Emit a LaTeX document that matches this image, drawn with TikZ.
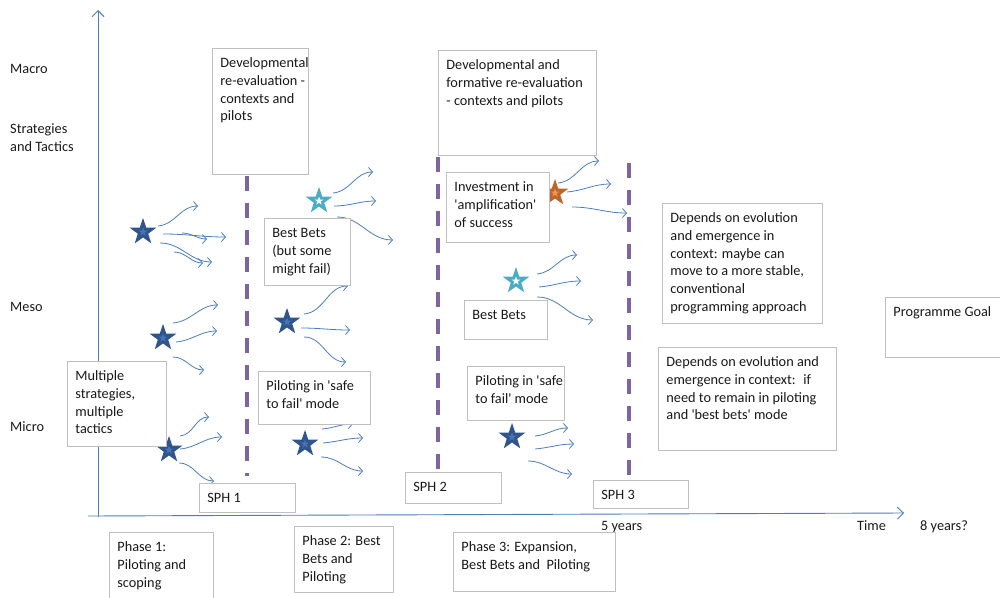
\documentclass[tikz,border=0pt]{standalone}
\usepackage{fontspec}
\setmainfont{Carlito}
\usetikzlibrary{shapes.geometric,arrows.meta}

\definecolor{boxgray}{RGB}{191,191,191}
\definecolor{axisblue}{RGB}{74,126,187}
\definecolor{wavblue}{RGB}{74,126,187}
\definecolor{dashpurple}{RGB}{128,100,162}
\definecolor{stardark}{RGB}{47,85,140}
\definecolor{starcore}{RGB}{72,116,182}
\definecolor{starlight}{RGB}{75,172,198}
\definecolor{starorange}{RGB}{190,100,40}
\definecolor{orangecore}{RGB}{240,150,80}
\definecolor{inktext}{RGB}{25,25,25}

% text block of fixed size, top aligned, lines set as given: width, height, lines
\newcommand\bt[3]{\parbox[t][#2pt][t]{#1pt}{\begin{tabular}[t]{@{}l@{}}#3\end{tabular}}}
\newcommand\sq{\textquotesingle}

\tikzset{
  x=1pt, y=-1pt,
  txtfont/.style={font=\fontsize{14.3}{17.7}\selectfont},
  tbox/.style={draw=boxgray, line width=0.8pt, fill=white, anchor=north west,
               inner xsep=8pt, inner ysep=7pt, text=inktext, txtfont},
  lbl/.style={inner sep=0pt, text=inktext, anchor=base west, txtfont},
  axis/.style={draw=axisblue, line width=0.9pt, -{Straight Barb[length=6pt,width=12pt]}},
  wav/.style={draw=wavblue, line width=0.8pt, -{Straight Barb[length=4pt,width=9pt]}},
  phaseline/.style={draw=dashpurple, line width=3.6pt, dash pattern=on 15pt off 12pt},
  bigstar/.style={star, star points=5, star point ratio=2.55, minimum size=28pt,
                  inner sep=0pt, draw=none},
  corestar/.style={star, star points=5, star point ratio=2.55, minimum size=9pt,
                   inner sep=0pt, draw=none},
  darkstar/.style={bigstar, fill=stardark},
  lightstar/.style={bigstar, fill=starlight},
  orangestar/.style={bigstar, fill=starorange},
}

\begin{document}
\begin{tikzpicture}
\useasboundingbox (0,0) rectangle (1000,597);

% axes
\coordinate (yb) at (98,517);
\coordinate (yt) at (98,10);
\coordinate (xl) at (88,516);
\coordinate (xr) at (904,513);
\draw[axis] (yb) -- (yt);
\draw[axis] (xl) -- (xr);

% level labels
\node[lbl] (macro) at (10,73) {Macro};
\node[lbl, anchor=north west] (strat) at (10,121) {\bt{100}{40}{Strategies\\and Tactics}};
\node[lbl] (meso) at (10,311) {Meso};
\node[lbl] (micro) at (10,431) {Micro};

% time labels
\node[lbl] (five) at (601,530) {5 years};
\node[lbl] (time) at (857,530) {Time};
\node[lbl] (eight) at (920,530) {8 years?};

% review points
\coordinate (d1t) at (247,176); \coordinate (d1b) at (247,476);
\coordinate (d2t) at (438,157); \coordinate (d2b) at (438,471);
\coordinate (d3t) at (629,163); \coordinate (d3b) at (629,479);
\draw[phaseline] (d1t) -- (d1b);
\draw[phaseline] (d2t) -- (d2b);
\draw[phaseline] (d3t) -- (d3b);

% stars with their spreading arrows
\node[darkstar] (s1) at (143,232) {};
\node[corestar, fill=starcore] (s1c) at (s1) {};
\draw[wav] ([shift={(15,-6)}]s1.center) to[out=5,in=180] ([shift={(55,-26)}]s1.center);
\draw[wav] ([shift={(20,2)}]s1.center) to[out=0,in=180] ([shift={(83,5)}]s1.center);
\draw[wav] ([shift={(39,1)}]s1.center) to[out=0,in=180] ([shift={(64,7)}]s1.center);
\draw[wav] ([shift={(17,11)}]s1.center) to[out=0,in=180] ([shift={(69,30)}]s1.center);
\draw[wav] ([shift={(31,20)}]s1.center) to[out=0,in=180] ([shift={(60,31)}]s1.center);

\node[darkstar] (s2) at (163,338) {};
\node[corestar, fill=starcore] (s2c) at (s2) {};
\draw[wav] ([shift={(10,-15)}]s2.center) to[out=5,in=180] ([shift={(55,-33)}]s2.center);
\draw[wav] ([shift={(13,4)}]s2.center) to[out=5,in=180] ([shift={(54,-7)}]s2.center);
\draw[wav] ([shift={(10,19)}]s2.center) to[out=0,in=180] ([shift={(41,32)}]s2.center);

\node[darkstar] (s3) at (169,450) {};
\node[corestar, fill=starcore] (s3c) at (s3) {};
\draw[wav] ([shift={(11,-14)}]s3.center) to[out=5,in=180] ([shift={(40,-33)}]s3.center);
\draw[wav] ([shift={(11,-1)}]s3.center) to[out=5,in=180] ([shift={(53,-13)}]s3.center);
\draw[wav] ([shift={(10,13)}]s3.center) to[out=0,in=180] ([shift={(45,31)}]s3.center);

\node[lightstar] (s4) at (319,201) {};
\node[corestar, fill=white] (s4c) at (s4) {};
\draw[wav] ([shift={(14,-8)}]s4.center) to[out=5,in=180] ([shift={(54,-29)}]s4.center);
\draw[wav] ([shift={(15,5)}]s4.center) to[out=0,in=180] ([shift={(57,0)}]s4.center);
\draw[wav] ([shift={(18,16)}]s4.center) to[out=0,in=180] ([shift={(74,39)}]s4.center);

\node[darkstar] (s5) at (287,322) {};
\node[corestar, fill=starcore] (s5c) at (s5) {};
\draw[wav] ([shift={(17,-8)}]s5.center) to[out=5,in=180] ([shift={(61,-36)}]s5.center);
\draw[wav] ([shift={(14,6)}]s5.center) to[out=0,in=180] ([shift={(63,8)}]s5.center);
\draw[wav] ([shift={(17,15)}]s5.center) to[out=0,in=180] ([shift={(59,40)}]s5.center);

\node[darkstar] (s6) at (305,444) {};
\node[corestar, fill=starcore] (s6c) at (s6) {};
\draw[wav] ([shift={(17,-15)}]s6.center) to[out=5,in=180] ([shift={(48,-20)}]s6.center);
\draw[wav] ([shift={(18,-1)}]s6.center) to[out=5,in=180] ([shift={(58,-6)}]s6.center);
\draw[wav] ([shift={(16,13)}]s6.center) to[out=0,in=180] ([shift={(58,27)}]s6.center);

\node[orangestar] (s7) at (555,193) {};
\node[corestar, fill=orangecore] (s7c) at (s7) {};
\draw[wav] ([shift={(3,-10)}]s7.center) to[out=5,in=180] ([shift={(44,-32)}]s7.center);
\draw[wav] ([shift={(12,-1)}]s7.center) to[out=5,in=180] ([shift={(56,-9)}]s7.center);
\draw[wav] ([shift={(17,14)}]s7.center) to[out=0,in=180] ([shift={(72,20)}]s7.center);

\node[lightstar] (s8) at (516,281) {};
\node[corestar, fill=white] (s8c) at (s8) {};
\draw[wav] ([shift={(21,-7)}]s8.center) to[out=5,in=180] ([shift={(61,-26)}]s8.center);
\draw[wav] ([shift={(23,6)}]s8.center) to[out=5,in=180] ([shift={(65,0)}]s8.center);
\draw[wav] ([shift={(21,16)}]s8.center) to[out=0,in=180] ([shift={(77,39)}]s8.center);

\node[darkstar] (s9) at (512,437) {};
\node[corestar, fill=starcore] (s9c) at (s9) {};
\draw[wav] ([shift={(23,-1)}]s9.center) to[out=5,in=180] ([shift={(56,-9)}]s9.center);
\draw[wav] ([shift={(23,12)}]s9.center) to[out=5,in=180] ([shift={(62,7)}]s9.center);
\draw[wav] ([shift={(16,24)}]s9.center) to[out=0,in=180] ([shift={(60,37)}]s9.center);

% text boxes
\node[tbox] (b1) at (212,48) {\bt{80}{112}{Developmental\\re-evaluation -\\contexts and\\pilots}};
\node[tbox] (b2) at (438,50) {\bt{142}{91}{Developmental and\\formative re-evaluation\\- contexts and pilots}};
\node[tbox] (b3) at (446,172) {\bt{87}{56}{Investment in\\\sq amplification\sq\\of success}};
\node[tbox] (b4) at (264,218) {\bt{70}{53}{Best Bets\\(but some\\might fail)}};
\node[tbox] (b5) at (662,203) {\bt{144}{106}{Depends on evolution\\and emergence in\\context: maybe can\\move to a more stable,\\conventional\\programming approach}};
\node[tbox] (b6) at (885,297) {\bt{124}{46}{Programme Goal}};
\node[tbox] (b7) at (464,300) {\bt{67}{25}{Best Bets}};
\node[tbox] (b8) at (658,347) {\bt{162}{89}{Depends on evolution and\\emergence in context:~ if\\need to remain in piloting\\and \sq best bets\sq\ mode}};
\node[tbox] (b9) at (67,361) {\bt{83}{71}{Multiple\\strategies,\\multiple\\tactics}};
\node[tbox] (b10) at (258,371) {\bt{96}{39}{Piloting in \sq safe\\to fail\sq\ mode}};
\node[tbox] (b11) at (467,366) {\bt{81}{40}{Piloting in \sq safe\\to fail\sq\ mode}};
\node[tbox] (sph1) at (199,483) {\bt{80}{15}{SPH 1}};
\node[tbox] (sph2) at (405,472) {\bt{80}{17}{SPH 2}};
\node[tbox] (sph3) at (593,480) {\bt{79}{14}{SPH 3}};
\node[tbox] (ph1) at (109,532) {\bt{88}{66}{Phase 1:\\Piloting and\\scoping}};
\node[tbox] (ph2) at (294,526) {\bt{83}{52}{Phase 2: Best\\Bets and\\Piloting}};
\node[tbox] (ph3) at (453,532) {\bt{146}{45}{Phase 3: Expansion,\\Best Bets and~ Piloting}};
\end{tikzpicture}
\end{document}
